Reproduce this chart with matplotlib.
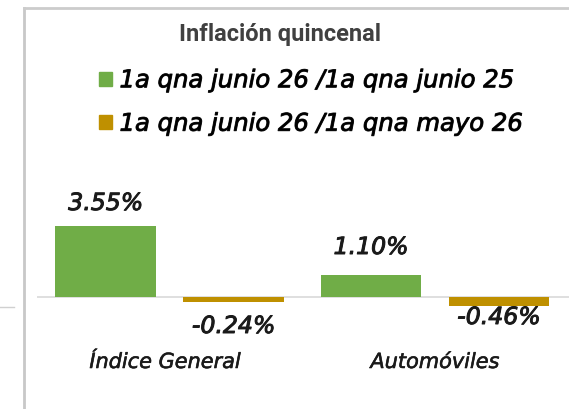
import matplotlib.pyplot as plt
import matplotlib.patheffects as pe
from matplotlib.lines import Line2D
from matplotlib.patches import Patch

categorias = ['Índice General', 'Automóviles']
serie1 = [3.55, 1.10]
serie2 = [-0.24, -0.46]
etiq1 = ['3.55%', '1.10%']
etiq2 = ['-0.24%', '-0.46%']
leyenda = ['1a qna junio 26 /1a qna junio 25', '1a qna junio 26 /1a qna mayo 26']

verde = '#70ad47'
oro = '#bf9000'
grueso = [pe.withStroke(linewidth=0.7, foreground='#1a1a1a')]

fig = plt.figure(figsize=(5.69, 4.10), dpi=100)
fig.patch.set_facecolor('white')

# marco de la captura
fig.add_artist(Line2D([23.5/569, 23.5/569], [0, 1 - 9/410], color='#c8c8c8', lw=2))
fig.add_artist(Line2D([23.5/569, 1], [1 - 9/410, 1 - 9/410], color='#cccccc', lw=2))
fig.add_artist(Line2D([0, 14/569], [1 - 308/410, 1 - 308/410], color='#d0d0d0', lw=1))

ax = fig.add_axes([37/569, 70/410, 532/569, 150/410])
x = [0, 1]
w = 0.38
ax.bar([i - 0.241 for i in x], serie1, w, color=verde, label=leyenda[0])
ax.bar([i + 0.241 for i in x], serie2, w, color=oro, label=leyenda[1])
ax.axhline(0, color='#d9d9d9', lw=1.2, zorder=0)
ax.set_xlim(-0.5, 1.505)
ax.set_ylim(-2.1, 5.4)
ax.axis('off')

fuente = dict(family='DejaVu Sans', style='italic', color='#1a1a1a')
for i in x:
    t = ax.text(i - 0.241, serie1[i] + 1.15 + 0.25 * i, etiq1[i], ha='center', va='center',
                fontsize=17, **fuente)
    t.set_path_effects(grueso)
for i, dy in zip(x, [-1.45, -1.0]):
    t = ax.text(i + 0.241, dy, etiq2[i], ha='center', va='center', fontsize=17, **fuente)
    t.set_path_effects(grueso)
for i, dx in zip(x, [-0.017, 0.0]):
    t = ax.text(i + dx, -3.25, categorias[i], ha='center', va='center', fontsize=15, **fuente)
    t.set_path_effects([pe.withStroke(linewidth=0.4, foreground='#1a1a1a')])

fig.text(280/569, 1 - 34/410, 'Inflación quincenal', ha='center', va='center',
         fontsize=17, family='Roboto', weight='bold', color='#404040')

handles = [Patch(color=verde), Patch(color=oro)]
leg = fig.legend(handles, leyenda, loc='center', bbox_to_anchor=(0.546, 1 - 103/410),
                 frameon=False, handlelength=0.53, handleheight=0.53, handletextpad=0.3,
                 labelspacing=0.8, prop=dict(family='DejaVu Sans', style='italic', size=17.5))
for t in leg.get_texts():
    t.set_path_effects(grueso)

fig.savefig('out.png', dpi=100)
